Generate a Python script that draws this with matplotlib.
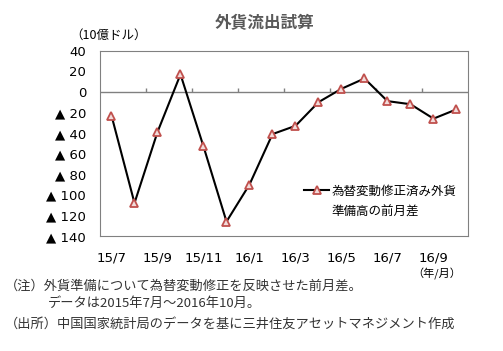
import numpy as np
import matplotlib.pyplot as plt

plt.rcParams['font.family'] = ['Noto Sans CJK JP', 'DejaVu Sans']

months = ['15/7', '15/8', '15/9', '15/10', '15/11', '15/12', '16/1', '16/2',
          '16/3', '16/4', '16/5', '16/6', '16/7', '16/8', '16/9', '16/10']
values = [-23, -108, -39, 17, -53, -126, -90, -41,
          -33, -10, 3, 13, -9, -12, -26, -17]
yticks = [40, 20, 0, -20, -40, -60, -80, -100, -120, -140]
ylabels = [str(v) if v >= 0 else '▲ ' + str(-v) for v in yticks]
series_name = ['為替変動修正済み外貨', '準備高の前月差']

fig = plt.figure(figsize=(5.03, 3.51), dpi=100)
ax = fig.add_axes([0.1988, 0.3276, 0.7316, 0.528])

x = np.arange(len(values))
ax.plot(x, values, color='black', lw=1.5, marker='^', ms=5.5,
        mfc='#f2dcdb', mec='#c0504d', mew=1.3, zorder=3,
        label=series_name[0])

ax.axhline(0, color='#808080', lw=1)
ax.vlines(np.arange(1.5, len(values) - 1, 2), 0, 4, color='#808080', lw=1)

ax.set_xlim(-0.5, len(values) - 0.5)
ax.set_ylim(-140, 40)
ax.set_yticks(yticks)
ax.set_yticklabels(ylabels, family='DejaVu Sans')
ax.set_xticks(x[::2])
ax.set_xticklabels(months[::2], family='DejaVu Sans')
ax.tick_params(length=0, labelsize=9.5, pad=10)
ax.tick_params(axis='x', pad=11)
for s in ax.spines.values():
    s.set_color('#808080')

leg = ax.legend(loc='center right', bbox_to_anchor=(1.0, 0.243), frameon=False,
                fontsize=9, handlelength=2.0, handletextpad=0.2)

# second line of the legend label, aligned under the first
fig.canvas.draw()
bb = leg.get_texts()[0].get_window_extent().transformed(ax.transAxes.inverted())
ax.text(bb.x0, 0.13, series_name[1], transform=ax.transAxes,
        ha='left', va='center', fontsize=9)

fig.text(0.527, 0.935, '外貨流出試算', ha='center', va='center', fontsize=12,
         fontweight='bold', color='#595959')
fig.text(0.14, 0.9, '（10億ドル）', ha='left', va='center', fontsize=9)
fig.text(0.868, 0.22, '（年/月）', ha='center', va='center', fontsize=8)

fig.text(0.01, 0.185, '（注）外貨準備について為替変動修正を反映させた前月差。',
         ha='left', va='center', fontsize=9.5, color='#333333')
fig.text(0.095, 0.135, 'データは2015年7月～2016年10月。',
         ha='left', va='center', fontsize=9.5, color='#333333')
fig.text(0.01, 0.075, '（出所）中国国家統計局のデータを基に三井住友アセットマネジメント作成',
         ha='left', va='center', fontsize=9.5, color='#333333')

fig.savefig('out.png', dpi=100)
